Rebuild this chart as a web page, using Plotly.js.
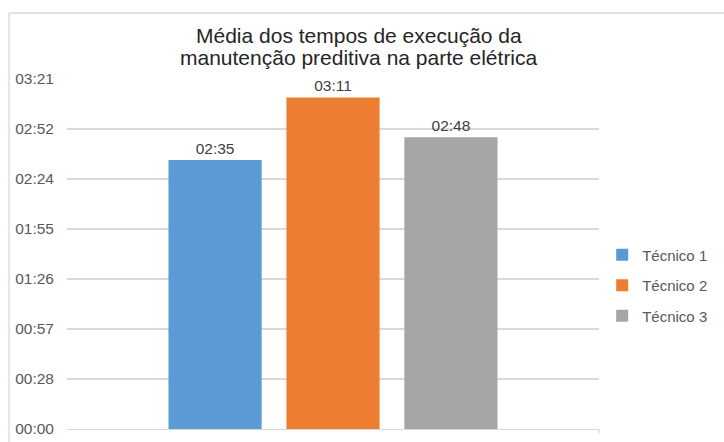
<!DOCTYPE html>
<html><head><meta charset="utf-8">
<script src="https://cdn.plot.ly/plotly-3.0.1.min.js"></script>
<style>html,body{margin:0;padding:0;background:#fff}#c{width:724px;height:442px}</style>
</head><body><div id="c"></div>
<script>
var seriesNames = ["Técnico 1", "Técnico 2", "Técnico 3"];
var category = [""];
var valuesSec = [155, 191, 168];
var valueLabels = ["02:35", "03:11", "02:48"];
var colors = ["#5b9bd5", "#ed7d31", "#a5a5a5"];
var tickVals = [0, 28.8, 57.6, 86.4, 115.2, 144, 172.8, 201.6];
var tickText = ["00:00", "00:28", "00:57", "01:26", "01:55", "02:24", "02:52", "03:21"];
var titleLines = ["Média dos tempos de execução da", "manutenção preditiva na parte elétrica"];

var traces = seriesNames.map(function(n, i){
  return {
    type: "bar", name: n, x: category, y: [valuesSec[i]],
    text: [valueLabels[i]], textposition: "outside", cliponaxis: false,
    textfont: {family: "Liberation Sans, Arial, sans-serif", size: 15.5, color: "#404040"},
    marker: {color: colors[i]}, legendgroup: "g" + i, hoverinfo: "none"
  };
});

var titleY = [1.1229, 1.06];
var layout = {
  width: 724, height: 442,
  margin: {l: 67, r: 125, t: 79, b: 13, autoexpand: false},
  paper_bgcolor: "#fff", plot_bgcolor: "#fff",
  font: {family: "Liberation Sans, Arial, sans-serif", color: "#595959"},
  annotations: titleLines.map(function(t, i){
    return {text: t, xref: "paper", yref: "paper", x: (359 - 67) / 532, y: titleY[i],
      xanchor: "center", yanchor: "middle", showarrow: false,
      font: {size: 21, color: "#262626"}};
  }),
  barmode: "group", bargap: 0.335, bargroupgap: 0.21,
  xaxis: {showticklabels: false, showgrid: false, zeroline: false, showline: true,
    linecolor: "#d9d9d9", linewidth: 1.3, fixedrange: true, ticks: ""},
  yaxis: {range: [0, 201.6], tickvals: tickVals, ticktext: tickText, showgrid: true,
    gridcolor: "#d9d9d9", gridwidth: 1.2, zeroline: false, showline: false,
    tickfont: {size: 15.5, color: "#595959"}, ticklabelstandoff: 12, fixedrange: true},
  legend: {x: 1.006, xanchor: "left", y: 0.41, yanchor: "middle", traceorder: "grouped",
    tracegroupgap: 8, font: {size: 15, color: "#595959"}, itemwidth: 30},
  showlegend: true,
  shapes: [
    {type: "line", xref: "paper", yref: "paper", x0: -0.109, x1: 1.4, y0: 1.1886, y1: 1.1886,
      line: {color: "#d9d9d9", width: 1.3}},
    {type: "line", xref: "paper", yref: "paper", x0: -0.109, x1: -0.109, y0: 1.1886, y1: -0.1,
      line: {color: "#d9d9d9", width: 1.3}},
    {type: "line", xref: "paper", yref: "paper", x0: 1, x1: 1, y0: 0, y1: -0.012,
      line: {color: "#d9d9d9", width: 1.3}}
  ]
};
Plotly.newPlot("c", traces, layout, {displayModeBar: false, staticPlot: true});
</script></body></html>
